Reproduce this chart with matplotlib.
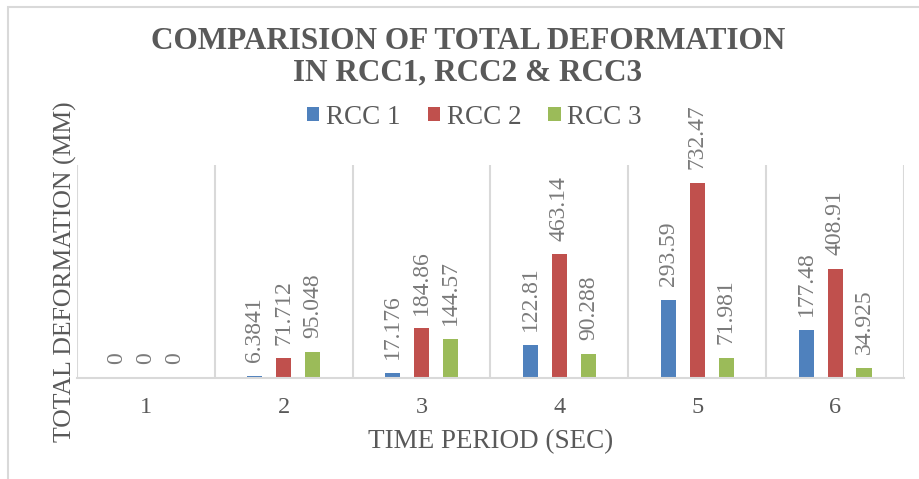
import matplotlib
matplotlib.use('Agg')
import matplotlib.pyplot as plt
import numpy as np
from matplotlib.patches import Rectangle

plt.rcParams['font.family'] = ['Liberation Serif', 'DejaVu Serif']

# data
periods = ['1', '2', '3', '4', '5', '6']
rcc1 = [0, 6.3841, 17.176, 122.81, 293.59, 177.48]
rcc2 = [0, 71.712, 184.86, 463.14, 732.47, 408.91]
rcc3 = [0, 95.048, 144.57, 90.288, 71.981, 34.925]
series_names = ['RCC 1', 'RCC 2', 'RCC 3']

colors = ['#4f81bd', '#c0504d', '#9bbb59']
grid_col = '#d9d9d9'
text_col = '#595959'

W, H = 920, 479
fig = plt.figure(figsize=(W / 100, H / 100), dpi=100)
ax = fig.add_axes([77 / W, (H - 377.5) / H, 827 / W, 212.5 / H])

x = np.arange(len(periods))
width = 0.11
offset = 0.21
for i, (vals, name) in enumerate(zip([rcc1, rcc2, rcc3], series_names)):
    b = ax.bar(x + (i - 1) * offset, vals, width, color=colors[i], label=name, zorder=3)
    ax.bar_label(b, fmt='%g', rotation=90, padding=10, fontsize=17, color='#7a7a7a')

ax.set_xlim(-0.5, len(periods) - 0.5)
ax.set_ylim(0, 800)

# category separators
for xb in np.arange(len(periods) + 1) - 0.5:
    ax.axvline(xb, color=grid_col, lw=1.5, zorder=1)

for s in ['top', 'left', 'right']:
    ax.spines[s].set_visible(False)
ax.spines['bottom'].set_color(grid_col)
ax.spines['bottom'].set_linewidth(1.5)
ax.spines['bottom'].set_zorder(4)

ax.set_xticks(x)
ax.set_xticklabels(periods, fontsize=17.5, color=text_col)
ax.tick_params(axis='x', length=0, pad=14)
ax.set_yticks([])

ax.set_xlabel('TIME PERIOD (SEC)', fontsize=19.5, color=text_col, labelpad=8)
ax.set_ylabel('TOTAL DEFORMATION (MM)', fontsize=18.5, color=text_col, labelpad=0)

fig.text(468 / W, 1 - 57 / H, 'COMPARISION OF TOTAL DEFORMATION\nIN RCC1, RCC2 & RCC3',
         ha='center', va='center', fontsize=22.5, fontweight='bold', color=text_col,
         linespacing=1.1)

fig.legend(loc='center', bbox_to_anchor=(474.5 / W, 1 - 117 / H), ncol=3, frameon=False,
           fontsize=19.5, handlelength=0.45, handleheight=0.45, handletextpad=0.25,
           columnspacing=1.0, labelcolor=text_col)

# outer chart border (only top/left inside the image)
fig.patches.append(Rectangle((8 / W, -0.1), 1.2, 1 - 7 / H + 0.1, transform=fig.transFigure,
                             fill=False, edgecolor=grid_col, lw=1.5))

fig.savefig('out.png', dpi=100)
